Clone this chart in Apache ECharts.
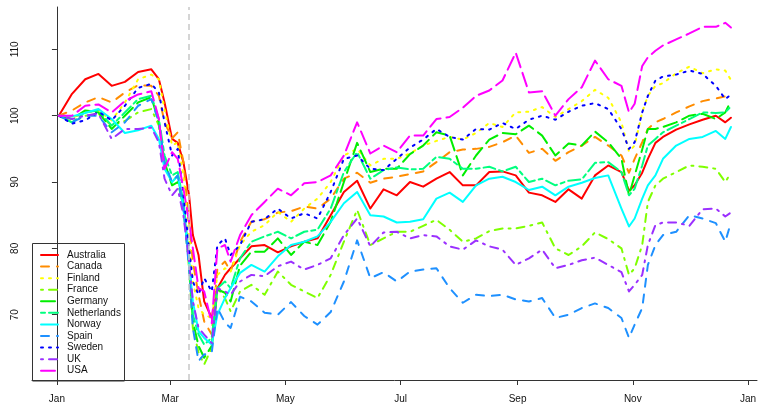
<!DOCTYPE html>
<html>
<head>
<meta charset="utf-8">
<script src="https://cdn.jsdelivr.net/npm/echarts@6/dist/echarts.min.js"></script>
<style>
html,body{margin:0;padding:0;background:#fff;}
#chart{width:759px;height:404px;}
</style>
</head>
<body>
<div id="chart"></div>
<script>
// Day of year 2020 (0 = 1 Jan 2020)
const days = [1,8,15,22,29,36,43,50,54,57,61,64,67,70,72,75,78,82,85,89,92,97,103,110,117,124,131,138,145,152,159,166,173,180,187,194,201,208,215,222,229,236,243,250,257,264,271,278,285,292,299,303,306,310,313,317,321,328,335,342,349,354,357];

const australia = [100,103.3,105.5,106.3,104.5,105.1,106.6,107, 105.5,102,96.5,95.9,93,88,82,79,72, 69.5,74,76,77,78.5,80.3, 80.5,79.4,80.3,81,81.5,85,88.5,90.2, 86,88.9,88,90,89.3,90.5,91.5,89.5, 89.5,91.5,91.6,91,88.4,88,87,88.9, 87.5,91,92.5,91.5,88.7,89.5,91.4,93.5, 95.9,96.8,97.9,98.7,99.4,100,99,99.7];
const canada = [100,100.8,102,102.8,102,103.5,104.6,104.5, 103,99,96.6,97.5,93,84,78,73,69, 67,77,78,76.5,81,84, 84.4,85.4,85.6,86.3,86,87.5,90.5,91.4, 89.9,90.5,90.8,91.2,91.6,93,94.5,94.9, 95,95.3,96,97,94.4,95,93.2,94.5, 95.5,96.8,95.5,94,91.4,93.5,96,98, 99,99.5,100.5,101.4,102.2,102.6,102.9,102.4];
const finland = [100,99.7,100.5,100.8,99.3,102,105.5,106.2, 105.5,101,95.5,96,91,82,75,71,70, 69.5,76,77,76.5,80.5,82.5, 83.5,85.5,84,86,87.5,90,94,95, 92.5,93.5,93.5,94.3,95.5,96.2,96.8,96.4, 97.4,98.9,98.3,100.5,100.6,101.3,99.8,101, 102.2,103.9,102.7,99,94.6,95.5,100.5,103, 104.5,104.9,106.4,107.4,106.4,107,106.8,105.4];
const france = [100,99,100,100.3,98.5,99.2,100.5,101, 98.5,92.5,90,91,86,77,68,64.3,62.5, 65,74,72.5,70.5,73.5,74.5, 73,76.5,74.5,73.5,72.5,76,81,85.8, 80.5,81.5,82.5,82.5,83.4,84.3,82.8,81, 81.5,82.6,83,83,83.4,83.9,80,79, 80.3,82.4,81.4,80,76,77,80.5,87, 89.5,90.5,91.5,92.5,92.3,92,90,91.4];
const germany = [100,99.5,100.8,100.5,98,100,102,102.8, 99,93,89.5,90,86.5,78.5,69,65.3,63.5, 65.3,73.8,73.3,72,77.4,79.5, 79.5,81.5,79,81,80.5,84,90,95.9, 91.5,92,92,94.2,95.5,97.5,97,91, 94,96.4,97.4,97.2,98.5,97,94,95.8, 95.5,97.6,96,93.5,88,91,94.9,98, 98,98.3,99,100,100.3,99.5,100.5,102.2];
const netherlands = [100,99,100.5,100.8,98.5,100.5,102.5,103, 99.5,94,91,91.5,87,78,70,67,65.5, 66.5,74,75,74,78.5,81, 81.8,82.5,81.5,82.5,82.8,86,91.5,94.5, 90.5,91.8,92.2,91.9,92,93.8,93.5,92, 92,92.3,91.6,92.3,90,90.5,89.5,90.2, 90.4,92.9,93,91.5,88,89,92.5,95.5, 96.5,97.5,98.5,99.5,100.5,100.4,100.5,101.4];
const norway = [100,99.9,100.4,101,99.5,97.4,97.8,98.5, 96.5,92,90,91,86,78,72,67.5,66.5, 65.5,70,72.5,74,76.3,77.5, 76.5,78.8,80.5,81,81.8,84,86.8,88.5, 85,84.8,83.9,84,84.4,87.5,88.4,87, 89.5,90.5,90.8,90,88.8,89.3,88,89.3, 89.9,90.6,91,86,83.3,84.5,87.5,89.5, 91,93.5,95.5,96.5,96.8,97.7,96.5,98.3];
const spain = [100,99,100,100,97.5,99,101.5,102.5, 99,93,90,91,86,77,68,63,64, 64.3,71,68.8,68,72.7,72, 70.3,70,71.9,69.8,68.5,70.4,75,81.2, 75.5,76.4,75,76.5,76.8,77,74,71.8, 73,72.8,73,72.3,72,72.5,69.5,70, 71,71.7,71,69.5,66.5,68.5,71,77.5, 80.5,82,82.5,85,84.5,83.8,81,83.9];
const sweden = [100,98.8,99.3,100.6,99.3,101.5,104.2,104.8, 103.5,99,94,95,88,80,75,73,75.5, 73.5,80.5,81.5,79,80.5,84, 84.4,86,84.5,85.3,84.5,88.5,93.5,94, 92,91.8,93.5,95.2,96.4,98,96.8,96.4, 98,97.9,98.9,98,99.4,100,99.4,100.6, 101.5,101.9,101,98,95,96,100.5,103, 105.3,105.9,106.2,106.8,106.3,104.5,102.5,103.2];
const uk = [100,99.5,100,100.3,96.5,98,98,98.2, 96,90.5,88,89,85,78,72,68,67, 65.7,74,73.5,73,75,76, 75.8,77.3,78,76.8,77.5,78.5,82,84.5, 80.3,82.4,82.5,81.5,82,81.8,80.3,79.8, 81.2,80.3,79.8,77.5,78.5,79.8,77,77.5, 78.2,78.6,77.5,76.4,73.5,74.5,76,80.5, 83.5,83.9,83.9,83.4,85.9,86,84.8,85.4];
const usa = [100,100,101.5,101.7,100.5,102.2,103.2,103.7, 99.5,92,94.5,93.5,89,84,80,74,73.5, 68.7,80,80.5,78,82,85, 87,89,88,89.8,90,91,94,99, 94.3,95.5,94.5,97,97,99.5,99.8,101.2, 103,103.8,105.3,109.5,103.5,103.7,100,102.5, 104.3,108.3,105.5,104.5,100.5,101.8,107.5,108.8, 109.8,110.6,111.5,112.4,113.4,113.4,114,113.3];

const seriesNames = ['Australia','Canada','Finland','France','Germany','Netherlands','Norway','Spain','Sweden','UK','USA'];
const seriesValues = [australia,canada,finland,france,germany,netherlands,norway,spain,sweden,uk,usa];

const xTickDays = [0,60,121,182,244,305,366];
const xTickLabels = ['Jan','Mar','May','Jul','Sep','Nov','Jan'];
const yTicks = [70,80,90,100,110];
const eventDay = 70; // 11 March 2020

// styles (R rainbow-like palette and lty 1..6)
const colors = ['#FF0000','#FF8C00','#FFFF00','#7FFF00','#00EE00','#00FF7F','#00FFFF','#1E90FF','#0000FF','#9B30FF','#FF00FF'];
const dashes = ['solid',[8,8],[2,6],[2,6,8,6],[14,6],[4,4,12,4]];

const font = 'Liberation Sans, Arial, Helvetica, sans-serif';

const series = seriesNames.map((name, i) => {
  const s = {
    name: name,
    type: 'line',
    data: days.map((d, k) => [d, seriesValues[i][k]]),
    showSymbol: false,
    symbol: 'none',
    lineStyle: {color: colors[i], width: 2, type: dashes[i % 6], cap: 'round', join: 'round'},
    itemStyle: {color: colors[i]},
    silent: true
  };
  if (i === 0) {
    s.markLine = {
      silent: true,
      symbol: 'none',
      label: {show: false},
      lineStyle: {color: '#C8C8C8', type: [6, 4], width: 1.5},
      data: [{xAxis: eventDay}],
      animation: false
    };
  }
  return s;
});

const chart = echarts.init(document.getElementById('chart'), null, {renderer: 'canvas'});
chart.setOption({
  animation: false,
  backgroundColor: '#ffffff',
  grid: {left: 32, right: 0, top: 7, bottom: 23},
  xAxis: {
    type: 'value',
    min: -13.2,
    max: 370.8,
    splitLine: {show: false},
    axisLine: {show: true, lineStyle: {color: '#333', width: 1}},
    axisTick: {show: true, length: 5, customValues: xTickDays, lineStyle: {color: '#333'}},
    axisLabel: {
      customValues: xTickDays,
      margin: 14,
      color: '#111',
      fontFamily: font,
      fontSize: 10,
      formatter: v => xTickLabels[xTickDays.indexOf(v)]
    }
  },
  yAxis: {
    type: 'value',
    min: 60.15,
    max: 116.39,
    splitLine: {show: false},
    axisLine: {show: true, lineStyle: {color: '#333', width: 1}},
    axisTick: {show: true, length: 5, customValues: yTicks, lineStyle: {color: '#333'}},
    axisLabel: {
      customValues: yTicks,
      rotate: 90,
      margin: 12,
      color: '#111',
      fontFamily: font,
      fontSize: 10
    }
  },
  legend: {
    orient: 'vertical',
    left: 40,
    top: 250,
    padding: 0,
    itemWidth: 17,
    itemHeight: 10,
    itemGap: 1.57,
    selectedMode: false,
    data: seriesNames,
    itemStyle: {opacity: 0, borderWidth: 0},
    textStyle: {fontFamily: font, fontSize: 10, lineHeight: 10, color: '#111', padding: [0,0,0,4]}
  },
  graphic: [{
    type: 'rect',
    silent: true,
    shape: {x: 32.5, y: 243.5, width: 92, height: 137.5},
    style: {fill: 'none', stroke: '#333', lineWidth: 1},
    z: 100
  }],
  series: series
});
</script>
</body>
</html>
